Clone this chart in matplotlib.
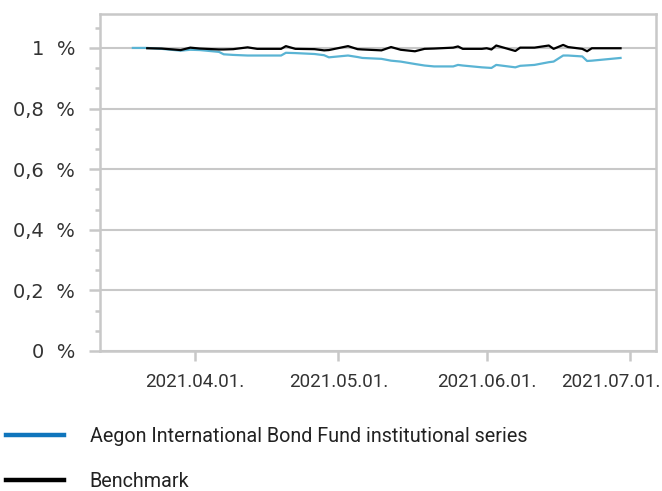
import matplotlib
matplotlib.use('Agg')
import matplotlib.pyplot as plt
from matplotlib.lines import Line2D
from matplotlib.ticker import FixedLocator
from matplotlib.transforms import ScaledTranslation
import numpy as np
import pandas as pd

# dane (wartość względna, start = 1)
dates = ['2021-03-19', '2021-03-22', '2021-03-25', '2021-03-29', '2021-03-31',
         '2021-04-02', '2021-04-06', '2021-04-07', '2021-04-09', '2021-04-12',
         '2021-04-14', '2021-04-19', '2021-04-20', '2021-04-22', '2021-04-26',
         '2021-04-28', '2021-04-29', '2021-05-03', '2021-05-05', '2021-05-06',
         '2021-05-10', '2021-05-12', '2021-05-14', '2021-05-17', '2021-05-19',
         '2021-05-21', '2021-05-25', '2021-05-26', '2021-05-27', '2021-05-31',
         '2021-06-01', '2021-06-02', '2021-06-03', '2021-06-07', '2021-06-08',
         '2021-06-11', '2021-06-14', '2021-06-15', '2021-06-17', '2021-06-18',
         '2021-06-21', '2021-06-22', '2021-06-23', '2021-06-29']
fund = [1.000, 1.000, 0.997, 0.991, 0.994,
        0.993, 0.987, 0.979, 0.977, 0.975,
        0.975, 0.975, 0.984, 0.983, 0.980,
        0.976, 0.969, 0.975, 0.970, 0.967,
        0.964, 0.958, 0.955, 0.947, 0.942,
        0.939, 0.939, 0.944, 0.942, 0.936,
        0.935, 0.934, 0.944, 0.936, 0.941,
        0.944, 0.953, 0.955, 0.975, 0.975,
        0.972, 0.957, 0.958, 0.967]
benchmark = [np.nan, 0.999, 0.998, 0.993, 1.001,
             0.998, 0.995, 0.995, 0.996, 1.002,
             0.997, 0.997, 1.006, 0.997, 0.996,
             0.992, 0.993, 1.006, 0.996, 0.995,
             0.992, 1.003, 0.994, 0.989, 0.997,
             0.998, 1.001, 1.005, 0.997, 0.997,
             0.999, 0.995, 1.008, 0.990, 1.001,
             1.001, 1.008, 0.997, 1.010, 1.003,
             0.997, 0.989, 0.999, 0.999]

series_names = ['Aegon International Bond Fund institutional series', 'Benchmark']
x_ticks = ['2021-04-01', '2021-05-01', '2021-06-01', '2021-07-01']
x_tick_labels = ['2021.04.01.', '2021.05.01.', '2021.06.01.', '2021.07.01.']
y_ticks = [0, 0.2, 0.4, 0.6, 0.8, 1.0]
y_tick_labels = ['0  %', '0,2  %', '0,4  %', '0,6  %', '0,8  %', '1  %']

df = pd.DataFrame({'date': pd.to_datetime(dates), 'fund': fund, 'bench': benchmark})

grid_c = '#c8c8c8'
fund_c = '#5ab4d4'
fund_legend_c = '#0f75bc'
txt_font = 'Roboto'

fig = plt.figure(figsize=(6.62, 4.91), dpi=100)
ax = fig.add_axes([100 / 662, 1 - 351 / 491, 556 / 662, 337 / 491])

ax.plot(df['date'], df['fund'], color=fund_c, lw=1.6, zorder=3)
ax.plot(df['date'], df['bench'], color='black', lw=1.6, zorder=4)

ax.set_xlim(pd.Timestamp('2021-03-12 03:00'), pd.Timestamp('2021-07-06 10:00'))
ax.set_ylim(0, 1.112)

for s in ax.spines.values():
    s.set_color(grid_c)
    s.set_linewidth(1.8)

ax.set_yticks(y_ticks)
ax.set_yticklabels(y_tick_labels, fontsize=14, color='#333333', family='DejaVu Sans')
ax.yaxis.set_minor_locator(FixedLocator([i * 0.2 / 3 for i in range(17)]))
ax.tick_params(axis='y', which='major', length=8, width=1.8, color=grid_c, pad=10)
ax.tick_params(axis='y', which='minor', length=3.6, width=1.8, color=grid_c)
ax.yaxis.grid(True, color=grid_c, lw=1.5)
ax.set_axisbelow(True)

ax.set_xticks(pd.to_datetime(x_ticks))
ax.set_xticklabels(x_tick_labels, fontsize=13.5, color='#333333', family=txt_font)
ax.tick_params(axis='x', length=7.5, width=1.8, color=grid_c, pad=8)
# ostatnia etykieta przesunięta w lewo, żeby się zmieściła
last = ax.get_xticklabels()[-1]
last.set_transform(last.get_transform() + ScaledTranslation(-0.19, 0, fig.dpi_scale_trans))

handles = [Line2D([], [], color=fund_legend_c, lw=3.2),
           Line2D([], [], color='black', lw=3.2)]
leg = fig.legend(handles, series_names, loc='upper left',
                 bbox_to_anchor=(6 / 662, 1 - 427 / 491), frameon=False,
                 prop={'family': txt_font, 'size': 14.2},
                 handlelength=2.95, handletextpad=1.3, labelspacing=1.3,
                 borderaxespad=0, borderpad=0)
for t in leg.get_texts():
    t.set_color('#222222')

fig.savefig('out.png', dpi=100)
